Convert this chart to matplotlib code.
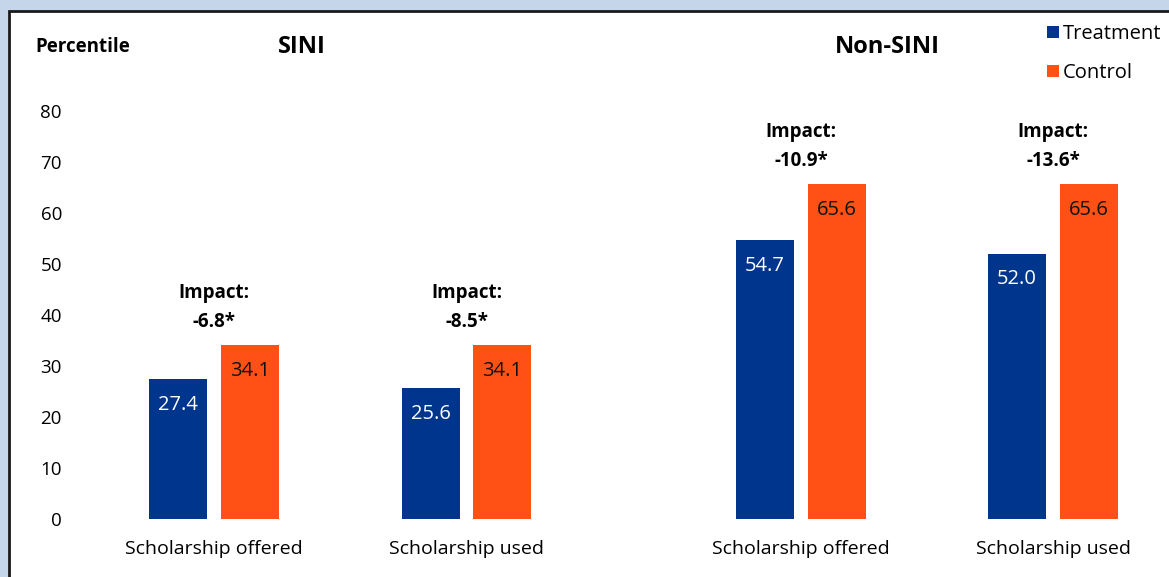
import matplotlib.pyplot as plt
from matplotlib.patches import Rectangle

categories = ["Scholarship offered", "Scholarship used", "Scholarship offered", "Scholarship used"]
treatment = [27.4, 25.6, 54.7, 52.0]
control = [34.1, 34.1, 65.6, 65.6]
impacts = ["-6.8*", "-8.5*", "-10.9*", "-13.6*"]
panels = ["SINI", "Non-SINI"]
yticks = [0, 10, 20, 30, 40, 50, 60, 70, 80]

BLUE = "#00358E"
ORANGE = "#FF5115"
plt.rcParams['font.family'] = ['Open Sans', 'DejaVu Sans']

W, H = 1169, 577
fig = plt.figure(figsize=(W / 100, H / 100), dpi=100, facecolor="#C6D6EA")

# white panel with dark border
fig.patches.append(Rectangle((9 / W, -0.1), 1.2, (H - 11) / H + 0.1, transform=fig.transFigure,
                             facecolor="white", edgecolor="#1a1a1a", linewidth=2, zorder=-10))

# axes placed in pixel terms: y=0 at px 519, y=80 at px 111
ax_left, ax_right = 80, 1169
ax = fig.add_axes([ax_left / W, (H - 519) / H, (ax_right - ax_left) / W, 408 / H])
ax.set_facecolor("none")
ax.set_zorder(5)

unit = 252.5
c0 = 214
xpos = [0, 1, (801 - c0) / unit, (1053 - c0) / unit]
off = 36 / unit
bw = 58 / unit

bt = ax.bar([x - off for x in xpos], treatment, bw, color=BLUE, label="Treatment")
bc = ax.bar([x + off for x in xpos], control, bw, color=ORANGE, label="Control")

for i, x in enumerate(xpos):
    ax.text(x - off, treatment[i] - 5.0, f"{treatment[i]:.1f}", ha="center", va="center",
            color="white", fontsize=14.5)
    ax.text(x + off, control[i] - 5.0, f"{control[i]:.1f}", ha="center", va="center",
            color="#111111", fontsize=14.5)
    top = max(treatment[i], control[i])
    ax.text(x, top + 4.5, impacts[i], ha="center", va="center", fontsize=13.5, fontweight="bold")
    ax.text(x, top + 10.2, "Impact:", ha="center", va="center", fontsize=13.5, fontweight="bold")

ax.set_xlim((ax_left - c0) / unit, (ax_right - c0) / unit)
ax.set_ylim(0, 80)
ax.set_yticks(yticks)
ax.tick_params(axis="y", length=0, labelsize=13.5, pad=13)
ax.set_xticks(xpos)
ax.set_xticklabels(categories, fontsize=14)
ax.tick_params(axis="x", length=0, pad=15)
for s in ax.spines.values():
    s.set_visible(False)

fig.text(35 / W, 1 - 47 / H, "Percentile", fontsize=13.5, fontweight="bold", va="center", ha="left")
fig.text(302 / W, 1 - 47 / H, panels[0], fontsize=17, fontweight="bold", va="center", ha="center")
fig.text(887 / W, 1 - 47 / H, panels[1], fontsize=17, fontweight="bold", va="center", ha="center")

leg = fig.legend(handles=[bt, bc], loc="upper left", bbox_to_anchor=(1037 / W, 1 - 14 / H),
                 frameon=False, fontsize=14.5, handlelength=0.6, handleheight=0.6,
                 handletextpad=0.2, labelspacing=0.95, borderpad=0)

fig.savefig("out.png", dpi=100, facecolor=fig.get_facecolor())
